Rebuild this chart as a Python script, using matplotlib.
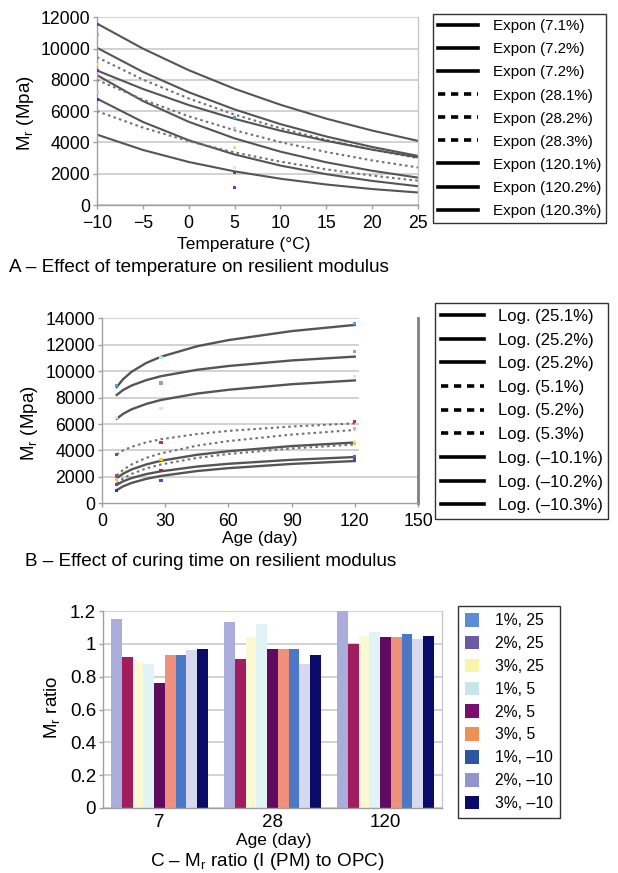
import matplotlib
matplotlib.use('Agg')
import matplotlib.pyplot as plt
from matplotlib.lines import Line2D
from matplotlib.patches import Patch
from matplotlib.ticker import FuncFormatter

plt.rcParams['font.family'] = ['Liberation Sans', 'DejaVu Sans']
plt.rcParams['mathtext.fontset'] = 'custom'
plt.rcParams['mathtext.rm'] = 'Liberation Sans'
plt.rcParams['mathtext.it'] = 'Liberation Sans:italic'

# ---- Panel A data: exponential trendlines, Mr (MPa) vs temperature (°C)
temperatures = [-10, -5, 0, 5, 10, 15, 20, 25]
exponCurves = [
    [11600, 10000, 8620, 7430, 6410, 5520, 4760, 4100],
    [10050, 8510, 7210, 6110, 5170, 4380, 3710, 3140],
    [9450, 8020, 6810, 5780, 4910, 4160, 3530, 3000],
    [8600, 7420, 6390, 5510, 4750, 4100, 3540, 3050],
    [8300, 6650, 5320, 4260, 3410, 2730, 2190, 1750],
    [8000, 6740, 5670, 4780, 4020, 3390, 2850, 2400],
    [6800, 5310, 4140, 3230, 2520, 1970, 1540, 1200],
    [6000, 4950, 4080, 3360, 2770, 2280, 1880, 1550],
    [4500, 3520, 2750, 2150, 1680, 1310, 1020, 800],
]
exponDotted = [False, False, True, False, False, True, False, True, False]
exponLabels = ['Expon (7.1%)', 'Expon (7.2%)', 'Expon (7.2%)',
               'Expon (28.1%)', 'Expon (28.2%)', 'Expon (28.3%)',
               'Expon (120.1%)', 'Expon (120.2%)', 'Expon (120.3%)']
exponLegendDotted = [False, False, False, True, True, True, False, False, False]
tempPointsX = [-10, -10, -10, -10, -10, -10, 5, 5, 5, 5, 5, 5]
tempPointsY = [11550, 10900, 9000, 8600, 7200, 6750, 5600, 4900, 3700, 2400, 2100, 1100]
tempPointsColor = ['#4848c8', '#f09090', '#f0e070', '#a02080', '#90d8e8', '#2040a0',
                   '#40a0d8', '#b0c8e8', '#f0e070', '#c8eef4', '#a02080', '#4848c8']

# ---- Panel B data: logarithmic trendlines, Mr (MPa) vs age (day)
ages = [7, 10, 14, 21, 28, 45, 60, 90, 120]
logCurves = [
    [8800, 9390, 9950, 10620, 11090, 11880, 12350, 13030, 13500],
    [8200, 8570, 8910, 9320, 9620, 10100, 10390, 10810, 11100],
    [6400, 6770, 7110, 7520, 7820, 8300, 8590, 9010, 9300],
    [3700, 4000, 4270, 4610, 4850, 5240, 5480, 5810, 6050],
    [2100, 2530, 2940, 3440, 3780, 4360, 4710, 5200, 5550],
    [1900, 2240, 2560, 2940, 3220, 3670, 3940, 4330, 4600],
    [1500, 1870, 2220, 2640, 2940, 3430, 3730, 4150, 4450],
    [1400, 1660, 1910, 2210, 2420, 2780, 2990, 3290, 3500],
    [1000, 1280, 1540, 1850, 2070, 2440, 2660, 2980, 3200],
]
logDotted = [False, False, False, True, True, False, True, False, False]
logLabels = ['Log. (25.1%)', 'Log. (25.2%)', 'Log. (25.2%)',
             'Log. (5.1%)', 'Log. (5.2%)', 'Log. (5.3%)',
             'Log. (\u201310.1%)', 'Log. (\u201310.2%)', 'Log. (\u201310.3%)']
logLegendDotted = [False, False, False, True, True, True, False, False, False]
agePointsX = [7, 7, 7, 7, 7, 7, 7, 28, 28, 28, 28, 28, 28, 28,
              120, 120, 120, 120, 120, 120, 120, 120, 120]
agePointsY = [8900, 6500, 3700, 2100, 1800, 1400, 1000, 11000, 9100, 7200, 4600, 3300, 2500, 1750,
              13600, 11500, 9600, 6200, 5650, 4700, 4500, 3500, 3300]
agePointsColor = ['#40a8d8', '#c8eef4', '#d03030', '#a040a0', '#f0d020', '#c020a0', '#2040a0',
                  '#b8e4f0', '#9898e0', '#c8eef4', '#d03030', '#f0d020', '#a02080', '#4848c8',
                  '#40a8d8', '#9898e0', '#c8eef4', '#d03030', '#f0a0c0', '#c8eef4', '#f0d020',
                  '#a040a0', '#4848c8']

# ---- Panel C data: Mr ratio per age group
ratioAges = ['7', '28', '120']
ratioSeries = [
    [1.15, 1.13, 1.20],
    [0.92, 0.91, 1.00],
    [0.89, 1.04, 1.05],
    [0.88, 1.12, 1.07],
    [0.76, 0.97, 1.04],
    [0.93, 0.97, 1.04],
    [0.93, 0.97, 1.06],
    [0.96, 0.88, 1.03],
    [0.97, 0.93, 1.05],
]
barColors = ['#aaacdc', '#a21d5e', '#fbf8d4', '#e0f3f5', '#600a60',
             '#f0907c', '#4a78c6', '#d8d9ef', '#0a0a68']
ratioLabels = ['1%, 25', '2%, 25', '3%, 25', '1%, 5', '2%, 5', '3%, 5',
               '1%, \u201310', '2%, \u201310', '3%, \u201310']
legendColors = ['#5b8dd6', '#6b5ba5', '#f8f5a8', '#c8e6ea', '#7a0e6e',
                '#ee9058', '#2e55a0', '#9095cc', '#0a0a68']

W, H = 618, 873
fig = plt.figure(figsize=(W / 100, H / 100), dpi=100)


def box(x0, y0, x1, y1):
    # pixel box (top-left origin) -> figure fraction rect
    return [x0 / W, 1 - y1 / H, (x1 - x0) / W, (y1 - y0) / H]


def styleAxes(ax, rightColor='#c8c8c8', rightWidth=1.0):
    for side in ['left', 'bottom']:
        ax.spines[side].set_color('#a0a0a0')
        ax.spines[side].set_linewidth(1.0)
    ax.spines['top'].set_visible(False)
    ax.spines['right'].set_color(rightColor)
    ax.spines['right'].set_linewidth(rightWidth)
    ax.tick_params(direction='out', length=3, width=1, color='#a0a0a0', labelsize=12.7, pad=2)
    ax.tick_params(axis='x', pad=4)


solidColor = '#555555'
dotColor = '#707070'
gridColor = '#cfcfcf'

# ---------------- Panel A
axA = fig.add_axes(box(97, 17.3, 418, 205))
for curve, dotted in zip(exponCurves, exponDotted):
    if dotted:
        axA.plot(temperatures, curve, color=dotColor, lw=1.5, ls=(0, (1.2, 1.6)))
    else:
        axA.plot(temperatures, curve, color=solidColor, lw=1.5)
axA.scatter(tempPointsX, tempPointsY, c=tempPointsColor, s=5, marker='s', zorder=3, linewidths=0)
axA.set_xlim(-10, 25)
axA.set_ylim(0, 12000)
axA.set_xticks(range(-10, 26, 5))
axA.set_yticks(range(0, 12001, 2000))
axA.grid(axis='y', color=gridColor, lw=1.3)
axA.set_axisbelow(True)
styleAxes(axA)

handlesA = [Line2D([], [], color='black', lw=2.6, ls=(0, (2, 1.6)) if d else '-')
            for d in exponLegendDotted]
legA = fig.legend(handlesA, exponLabels, loc='upper left', bbox_to_anchor=(433 / W, 1 - 14 / H),
                  fontsize=10.9, handlelength=2.6, handletextpad=1.0, labelspacing=0.6,
                  borderpad=0.35, borderaxespad=0, fancybox=False, framealpha=1)
legA.get_frame().set_edgecolor('#333333')
legA.get_frame().set_linewidth(1.0)

fig.text(25 / W, 1 - 113 / H, r'M$_\mathrm{r}$ (Mpa)', rotation=90, ha='center', va='center', fontsize=13.5)
fig.text(244 / W, 1 - 245 / H, 'Temperature (°C)', ha='center', va='center', fontsize=12.5)
fig.text(9 / W, 1 - 267 / H, 'A \u2013 Effect of temperature on resilient modulus',
         ha='left', va='center', fontsize=13.6)

# ---------------- Panel B
axB = fig.add_axes(box(102, 318.3, 418, 503.3))
for curve, dotted in zip(logCurves, logDotted):
    if dotted:
        axB.plot(ages, curve, color=dotColor, lw=1.5, ls=(0, (1.2, 1.6)))
    else:
        axB.plot(ages, curve, color=solidColor, lw=1.7)
axB.scatter(agePointsX, agePointsY, c=agePointsColor, s=5, marker='s', zorder=3, linewidths=0)
axB.set_xlim(0, 150)
axB.set_ylim(0, 14000)
axB.set_xticks(range(0, 151, 30))
axB.set_yticks(range(0, 14001, 2000))
axB.hlines(2000, 0, 150, color=gridColor, lw=1.3, zorder=0)
axB.hlines(range(4000, 14001, 2000), 0, 122, color=gridColor, lw=1.3, zorder=0)
styleAxes(axB, rightColor='#808080', rightWidth=2.0)

handlesB = [Line2D([], [], color='black', lw=2.6, ls=(0, (2, 1.6)) if d else '-')
            for d in logLegendDotted]
legB = fig.legend(handlesB, logLabels, loc='upper left', bbox_to_anchor=(435 / W, 1 - 303 / H),
                  fontsize=12, handlelength=2.6, handletextpad=0.8, labelspacing=0.52,
                  borderpad=0.35, borderaxespad=0, fancybox=False, framealpha=1)
legB.get_frame().set_edgecolor('#333333')
legB.get_frame().set_linewidth(1.0)

fig.text(30 / W, 1 - 423 / H, r'M$_\mathrm{r}$ (Mpa)', rotation=90, ha='center', va='center', fontsize=13.5)
fig.text(260 / W, 1 - 539 / H, 'Age (day)', ha='center', va='center', fontsize=12.5)
fig.text(25 / W, 1 - 561 / H, 'B \u2013 Effect of curing time on resilient modulus',
         ha='left', va='center', fontsize=13.6)

# ---------------- Panel C
axC = fig.add_axes(box(103, 611, 442, 808))
barWidth = 0.095
for i, (values, color) in enumerate(zip(ratioSeries, barColors)):
    positions = [g + (i - 4) * barWidth for g in range(len(ratioAges))]
    axC.bar(positions, values, width=barWidth, color=color, edgecolor='none')
axC.set_xlim(-0.5, len(ratioAges) - 0.5)
axC.set_ylim(0, 1.2)
axC.set_xticks(range(len(ratioAges)))
axC.set_xticklabels(ratioAges)
axC.set_yticks([0, 0.2, 0.4, 0.6, 0.8, 1.0, 1.2])
axC.yaxis.set_major_formatter(FuncFormatter(lambda v, p: '%g' % v))
axC.grid(axis='y', color=gridColor, lw=1.3)
axC.set_axisbelow(True)
styleAxes(axC)
axC.tick_params(axis='both', labelsize=13.5)
axC.tick_params(axis='x', length=0, pad=4)

handlesC = [Patch(facecolor=c, edgecolor='none') for c in legendColors]
legC = fig.legend(handlesC, ratioLabels, loc='upper left', bbox_to_anchor=(458 / W, 1 - 606 / H),
                  fontsize=11.3, handlelength=0.9, handleheight=0.95, handletextpad=1.0,
                  labelspacing=0.49, borderpad=0.45, borderaxespad=0, fancybox=False, framealpha=1)
legC.get_frame().set_edgecolor('#333333')
legC.get_frame().set_linewidth(1.0)

fig.text(52 / W, 1 - 707 / H, r'M$_\mathrm{r}$ ratio', rotation=90, ha='center', va='center', fontsize=13.5)
fig.text(274 / W, 1 - 840 / H, 'Age (day)', ha='center', va='center', fontsize=12.5)
fig.text(267 / W, 1 - 861 / H, 'C \u2013 M$_\\mathrm{r}$ ratio (I (PM) to OPC)',
         ha='center', va='center', fontsize=13.6)

fig.savefig('out.png', dpi=100, facecolor='white')
